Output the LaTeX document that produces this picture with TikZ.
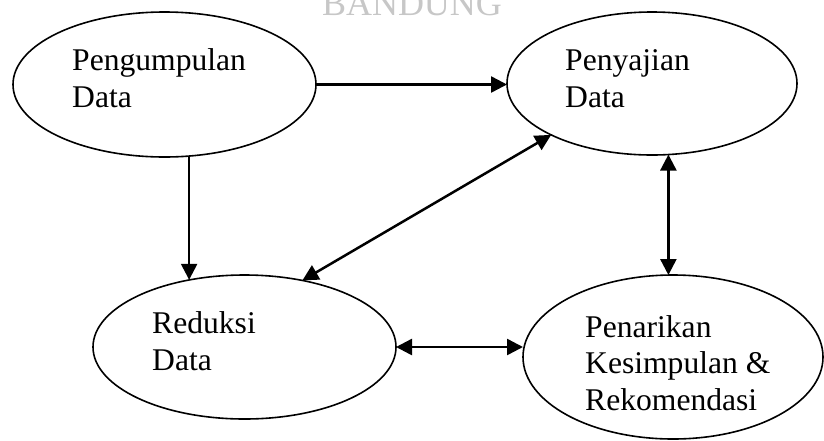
\documentclass[tikz,border=0pt]{standalone}
\usepackage{fontspec}
\setmainfont{Liberation Serif}
\usetikzlibrary{shapes.geometric,arrows.meta}
\tikzset{
  oval/.style={draw, ellipse, line width=1.6pt, inner sep=0pt, outer sep=0pt},
  lbl/.style={anchor=base west, inner sep=0pt, font=\fontsize{31.6}{37}\selectfont},
  arr/.style={line width=2.5pt, -{Triangle[length=16pt,width=16pt]}},
  darr/.style={line width=2.5pt, {Triangle[length=16pt,width=16pt]}-{Triangle[length=16pt,width=16pt]}},
  wmark/.style={anchor=base, inner sep=0pt, text=black!22, font=\fontsize{36}{40}\selectfont}
}
\begin{document}
\begin{tikzpicture}[x=1pt,y=-1pt]
\useasboundingbox (0,0) rectangle (824,440);
\clip (0,0) rectangle (824,440);
\fill[white] (0,0) rectangle (824,440);

% watermark
\node[wmark] (wm) at (412,15) {BANDUNG};

% ellipses
\node[oval, minimum width=303pt, minimum height=145pt] (A) at (164.5,84.5) {};
\node[oval, minimum width=290pt, minimum height=143pt] (B) at (652,83.5) {};
\node[oval, minimum width=303pt, minimum height=144pt] (C) at (244.5,347) {};
\node[oval, minimum width=300pt, minimum height=164pt] (D) at (673,357) {};

% labels
\node[lbl] (a1) at (72,70) {Pengumpulan};
\node[lbl] (a2) at (72,107) {Data};
\node[lbl] (b1) at (565,70) {Penyajian};
\node[lbl] (b2) at (565,107) {Data};
\node[lbl] (c1) at (152,333) {Reduksi};
\node[lbl] (c2) at (152,370) {Data};
\node[lbl] (d1) at (585,337) {Penarikan};
\node[lbl] (d2) at (585,373) {Kesimpulan \&};
\node[lbl] (d3) at (585,410) {Rekomendasi};

% connectors
\draw[arr] (A.east) -- (A.east -| B.west);
\draw[arr] (A.-71.1) -- (A.-71.1 |- C.129.6);
\draw[darr] (C.49.8) -- (B.-153.4);
\draw[darr] (B.-77.3) -- (B.-77.3 |- D.north);
\draw[darr] (C.east) -- (C.east -| D.west);
\end{tikzpicture}
\end{document}
